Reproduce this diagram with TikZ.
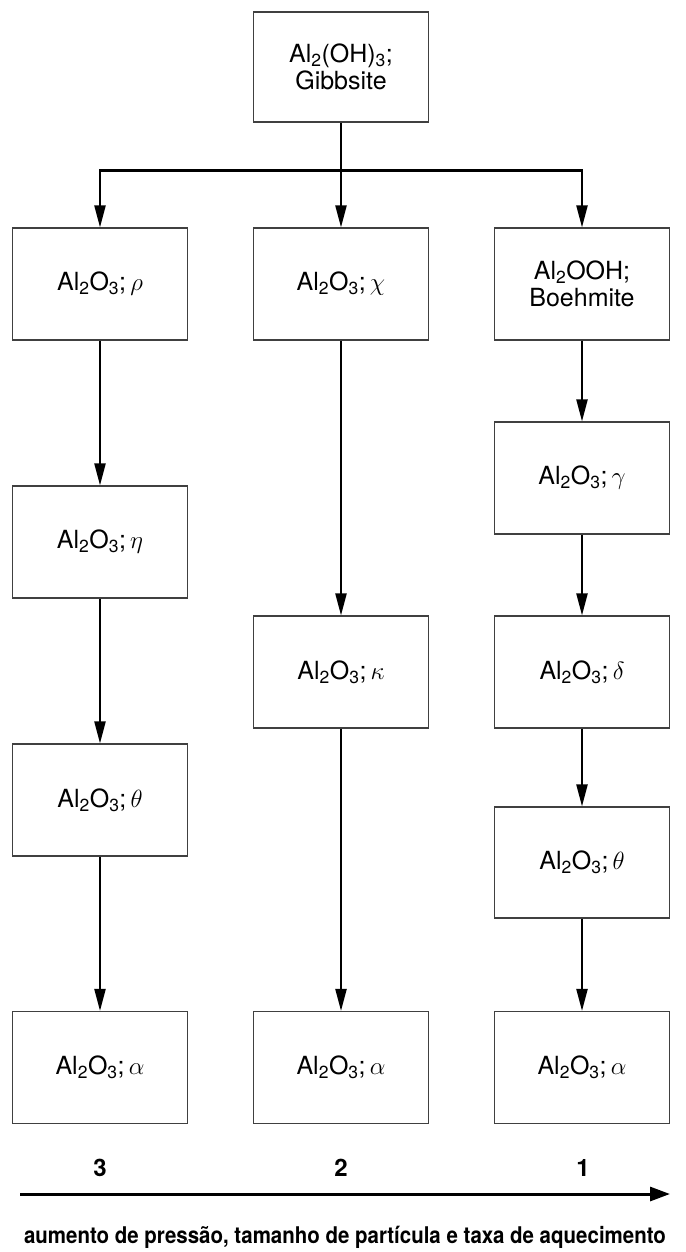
\documentclass[tikz,border=0pt]{standalone}
\usepackage{fontspec}
\setmainfont{TeX Gyre Heros}
\usepackage{tikz}
\usetikzlibrary{arrows.meta}

\newcommand{\alox}{Al\textsubscript{2}O\textsubscript{3};\,}

\begin{document}
\begin{tikzpicture}[
    x = 1pt, y = -1pt,
    phase/.style = {
      rectangle, draw = black!75, line width = 1.1pt, fill = white,
      minimum width = 175pt, minimum height = 112pt, align = center,
      inner sep = 0pt, font = \fontsize{25}{27}\selectfont
    },
    flow/.style = {
      line width = 2.2pt, -{Triangle[length = 22pt, width = 11pt]}
    },
    rank/.style = {font = \fontsize{24}{26}\selectfont\bfseries}
  ]
  \useasboundingbox (0,0) rectangle (685,1252);

  % source
  \node [phase, minimum height = 110pt] (gibbsite) at (341,67)
    {Al\textsubscript{2}(OH)\textsubscript{3};\\Gibbsite};

  % route 3
  \node [phase] (rho)    at (100,284)    {\alox$\rho$};
  \node [phase] (eta)    at (100,542)    {\alox$\eta$};
  \node [phase] (thetaL) at (100,800)    {\alox$\theta$};
  \node [phase] (alphaL) at (100,1067.5) {\alox$\alpha$};

  % route 2
  \node [phase] (chi)    at (341,284)    {\alox$\chi$};
  \node [phase] (kappa)  at (341,672)    {\alox$\kappa$};
  \node [phase] (alphaM) at (341,1067.5) {\alox$\alpha$};

  % route 1
  \node [phase] (boehmite) at (582,284)
    {Al\textsubscript{2}OOH;\\Boehmite};
  \node [phase] (gamma)  at (582,478)    {\alox$\gamma$};
  \node [phase] (delta)  at (582,672)    {\alox$\delta$};
  \node [phase, minimum height = 111pt] (thetaR) at (582,862.5)
    {\alox$\theta$};
  \node [phase] (alphaR) at (582,1067.5) {\alox$\alpha$};

  % branching
  \draw [line width = 2.2pt] (gibbsite.south) -- ++(0,48) coordinate (fork);
  \draw [flow] (fork) -| (rho.north);
  \draw [flow] (fork) -- (chi.north);
  \draw [flow] (fork) -| (boehmite.north);

  \draw [flow] (rho) -- (eta);
  \draw [flow] (eta) -- (thetaL);
  \draw [flow] (thetaL) -- (alphaL);
  \draw [flow] (chi) -- (kappa);
  \draw [flow] (kappa) -- (alphaM);
  \draw [flow] (boehmite) -- (gamma);
  \draw [flow] (gamma) -- (delta);
  \draw [flow] (delta) -- (thetaR);
  \draw [flow] (thetaR) -- (alphaR);

  % axis
  \node [rank] (r3) at (100,1168) {3};
  \node [rank] (r2) at (341,1168) {2};
  \node [rank] (r1) at (583,1168) {1};
  \coordinate (axisL) at (20,1194);
  \coordinate (axisR) at (670,1194);
  \draw [line width = 3pt, -{Triangle[length = 20pt, width = 14pt]}]
    (axisL) -- (axisR);
  \node [font = \fontsize{23}{25}\selectfont\bfseries] (caption) at (345,1237)
    {\scalebox{0.89}[1]{aumento de pressão, tamanho de partícula e taxa de aquecimento}};
\end{tikzpicture}
\end{document}
